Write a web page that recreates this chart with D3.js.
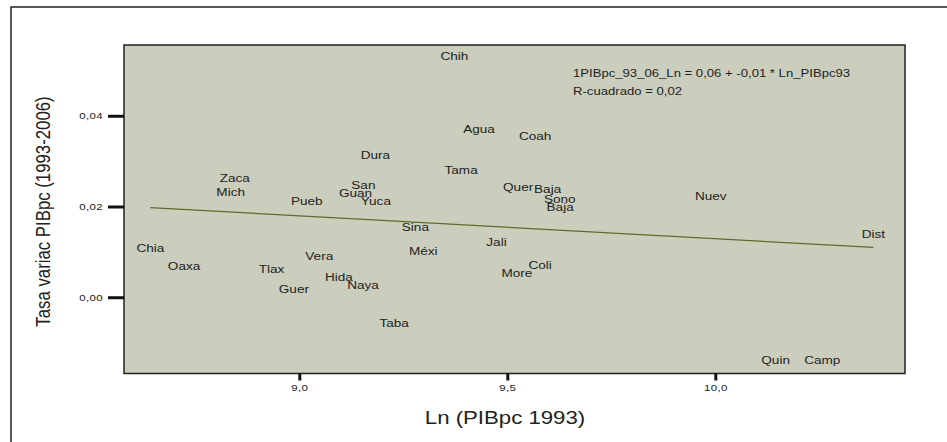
<!doctype html>
<html>
<head>
<meta charset="utf-8">
<title>Tasa variac PIBpc vs Ln PIBpc 1993</title>
<script src="https://d3js.org/d3.v7.min.js"></script>
<style>
  body { margin: 0; background: #fff; }
  svg text { font-family: "Liberation Sans", Arial, sans-serif; fill: #222; }
</style>
</head>
<body>
<div id="chart"></div>
<script>
// state abbreviations, Ln(PIBpc 1993) and growth rate 1993-2006
var states = ["Chih", "Agua", "Coah", "Dura", "Tama", "Zaca", "Mich", "San",
  "Guan", "Yuca", "Pueb", "Quer", "Baja", "Sono", "Baja", "Nuev",
  "Sina", "Dist", "Chia", "Jali", "Méxi", "Vera", "Oaxa", "Tlax",
  "Coli", "More", "Hida", "Naya", "Guer", "Taba", "Quin", "Camp"];
var lnPIB = [9.373, 9.432, 9.567, 9.183, 9.389, 8.845, 8.835, 9.154,
  9.135, 9.184, 9.018, 9.526, 9.597, 9.626, 9.627, 9.989,
  9.279, 10.380, 8.642, 9.474, 9.298, 9.048, 8.723, 8.933,
  9.579, 9.523, 9.095, 9.153, 8.987, 9.228, 10.145, 10.257];
var tasa = [0.0531, 0.0372, 0.0355, 0.0314, 0.0281, 0.0264, 0.0232, 0.0248,
  0.0231, 0.0213, 0.0213, 0.0243, 0.0239, 0.0217, 0.0199, 0.0224,
  0.0155, 0.0140, 0.0109, 0.0122, 0.0102, 0.0091, 0.0069, 0.0062,
  0.0072, 0.0053, 0.0045, 0.0027, 0.0018, -0.0056, -0.0137, -0.0138];

var xTicks = [9.0, 9.5, 10.0];
var yTicks = [0.00, 0.02, 0.04];

// fitted line
var fitIntercept = 0.0634;
var fitSlope = -0.00505;
var eqLines = ["1PIBpc_93_06_Ln = 0,06 + -0,01 * Ln_PIBpc93", "R-cuadrado = 0,02"];

var W = 947, H = 442;
var plot = {left: 124, top: 45, right: 905, bottom: 373.5};

var svg = d3.select("#chart").append("svg")
  .attr("width", W)
  .attr("height", H);

// outer frame (runs off the right and bottom)
svg.append("rect")
  .attr("x", 11).attr("y", 7)
  .attr("width", W).attr("height", H)
  .attr("fill", "none")
  .attr("stroke", "#222")
  .attr("stroke-width", 1.5);

var x = d3.scaleLinear().domain([8.5786, 10.456]).range([plot.left, plot.right]);
var y = d3.scaleLinear().domain([-0.01681, 0.0556]).range([plot.bottom, plot.top]);

var comma = function(f) { return function(v) { return d3.format(f)(v).replace(".", ","); }; };

svg.append("rect")
  .attr("x", plot.left).attr("y", plot.top)
  .attr("width", plot.right - plot.left)
  .attr("height", plot.bottom - plot.top)
  .attr("fill", "#cbcebc")
  .attr("stroke", "#222")
  .attr("stroke-width", 1.5);

// Y axis
var yAxis = svg.append("g")
  .attr("transform", "translate(" + plot.left + ",0)")
  .call(d3.axisLeft(y).tickValues(yTicks).tickSize(16).tickFormat(comma(".2f")));
yAxis.select(".domain").remove();
yAxis.selectAll(".tick line").attr("stroke", "#111").attr("stroke-width", 3);
yAxis.selectAll(".tick text").remove();
yAxis.selectAll(".tick").append("text")
  .attr("transform", "translate(-21,0) scale(1.3,1)")
  .attr("text-anchor", "end")
  .attr("dy", "0.35em")
  .style("font-size", "8.8px")
  .style("letter-spacing", "0.3px")
  .text(comma(".2f"));

// X axis
var xAxis = svg.append("g")
  .attr("transform", "translate(0," + plot.bottom + ")")
  .call(d3.axisBottom(x).tickValues(xTicks).tickSize(7).tickFormat(comma(".1f")));
xAxis.select(".domain").remove();
xAxis.selectAll(".tick line").attr("stroke", "#111").attr("stroke-width", 3);
xAxis.selectAll(".tick text").remove();
xAxis.selectAll(".tick").append("text")
  .attr("transform", "translate(0,17) scale(1.3,1)")
  .attr("text-anchor", "middle")
  .style("font-size", "8.8px")
  .style("letter-spacing", "0.3px")
  .text(comma(".1f"));

// fit line
var xr = d3.extent(lnPIB);
svg.append("path")
  .datum(xr)
  .attr("fill", "none")
  .attr("stroke", "#5d6b2c")
  .attr("stroke-width", 1.3)
  .attr("d", d3.line()
    .x(function(d) { return x(d); })
    .y(function(d) { return y(fitIntercept + fitSlope * d); }));

// point labels
var pts = states.map(function(s, i) { return {name: s, x: lnPIB[i], y: tasa[i]}; });
svg.selectAll(".lbl")
  .data(pts)
  .enter().append("text")
  .attr("class", "lbl")
  .attr("transform", function(d) { return "translate(" + x(d.x) + "," + y(d.y) + ") scale(1.18,1)"; })
  .attr("text-anchor", "middle")
  .attr("dy", "0.36em")
  .style("font-size", "11.5px")
  .text(function(d) { return d.name; });

// equation
svg.selectAll(".eq")
  .data(eqLines)
  .enter().append("text")
  .attr("class", "eq")
  .attr("transform", function(d, i) { return "translate(573," + (77 + i * 17.5) + ") scale(1.25,1)"; })
  .style("font-size", "10.5px")
  .text(function(d) { return d; });

// axis titles
svg.append("text")
  .attr("transform", "translate(505,424) scale(1.2,1)")
  .attr("text-anchor", "middle")
  .style("font-size", "18.5px")
  .text("Ln (PIBpc 1993)");

svg.append("text")
  .attr("transform", "translate(50,211.5) scale(1.22,1) rotate(-90)")
  .attr("text-anchor", "middle")
  .style("font-size", "16.8px")
  .text("Tasa variac PIBpc (1993-2006)");
</script>
</body>
</html>
